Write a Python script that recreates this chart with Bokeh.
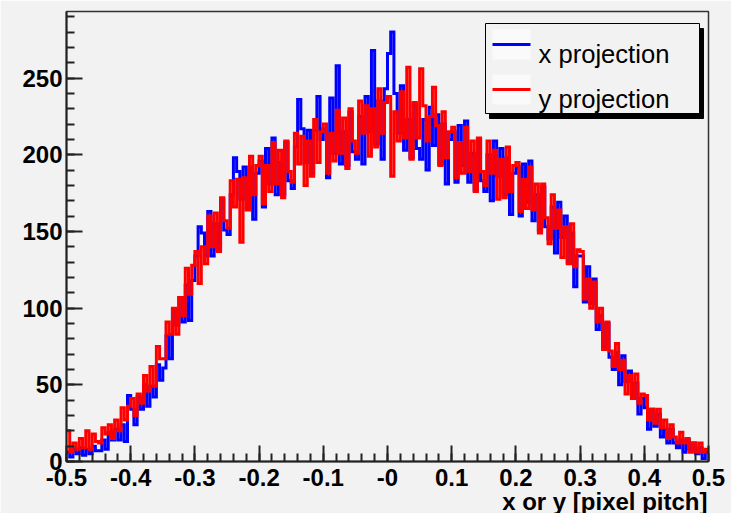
import numpy as np
from bokeh.plotting import figure
from bokeh.models import FixedTicker, Range1d, Title
from bokeh.embed import file_html
from bokeh.resources import INLINE
from bokeh.core.properties import value

# ---------------- data ----------------
x_min, x_max = -0.5, 0.5
n_bins = 200

x_projection = [
    6, 3, 8, 5, 9, 4, 8, 5, 10, 7,
    7, 14, 8, 19, 14, 21, 14, 24, 13, 43,
    34, 24, 42, 34, 50, 36, 49, 42, 63, 53,
    61, 82, 67, 99, 89, 107, 91, 115, 92, 118,
    134, 153, 149, 134, 163, 134, 155, 138, 171, 151,
    148, 174, 198, 189, 171, 192, 165, 192, 158, 188,
    196, 166, 204, 181, 211, 174, 195, 174, 208, 183,
    178, 205, 236, 217, 195, 216, 188, 216, 238, 210,
    217, 185, 237, 201, 258, 194, 215, 193, 228, 202,
    197, 225, 194, 238, 215, 268, 207, 235, 197, 243,
    266, 280, 240, 214, 245, 203, 223, 198, 233, 204,
    197, 223, 190, 231, 206, 226, 194, 220, 181, 210,
    215, 182, 219, 193, 222, 182, 201, 177, 210, 183,
    176, 200, 170, 209, 186, 204, 174, 198, 161, 188,
    192, 160, 194, 169, 196, 157, 174, 151, 179, 153,
    145, 166, 136, 169, 146, 160, 130, 149, 114, 134,
    134, 104, 127, 103, 119, 86, 95, 74, 90, 68,
    60, 71, 50, 69, 52, 59, 41, 51, 31, 41,
    35, 21, 34, 23, 31, 16, 21, 12, 21, 12,
    9, 14, 6, 14, 8, 12, 5, 9, 2, 6,
]

y_projection = [
    20, 6, 12, 8, 15, 9, 20, 8, 18, 13,
    12, 22, 18, 24, 15, 27, 20, 35, 27, 36,
    41, 30, 44, 38, 56, 46, 62, 49, 75, 67,
    67, 91, 83, 100, 83, 107, 95, 126, 109, 128,
    137, 116, 140, 129, 160, 140, 162, 137, 172, 157,
    152, 183, 166, 184, 143, 185, 164, 199, 174, 193,
    199, 168, 193, 176, 208, 181, 203, 172, 209, 189,
    182, 214, 194, 212, 180, 209, 186, 223, 195, 215,
    220, 188, 214, 196, 229, 201, 224, 191, 230, 209,
    201, 235, 214, 232, 199, 230, 205, 243, 214, 234,
    238, 186, 228, 209, 241, 211, 257, 197, 234, 211,
    256, 232, 209, 225, 244, 219, 193, 228, 198, 215,
    218, 185, 208, 188, 218, 189, 209, 176, 211, 189,
    180, 209, 188, 203, 171, 197, 172, 205, 176, 193,
    195, 163, 184, 165, 192, 164, 181, 149, 181, 159,
    142, 174, 152, 164, 133, 153, 129, 155, 127, 138,
    137, 106, 119, 100, 117, 91, 100, 73, 91, 72,
    62, 77, 60, 66, 44, 56, 41, 57, 38, 44,
    43, 27, 34, 25, 34, 22, 27, 15, 24, 16,
    12, 19, 12, 15, 6, 12, 6, 12, 6, 8,
]

x_tick_values = [-0.5, -0.4, -0.3, -0.2, -0.1, 0.0, 0.1, 0.2, 0.3, 0.4, 0.5]
x_tick_labels = ["-0.5", "-0.4", "-0.3", "-0.2", "-0.1", "-0", "0.1", "0.2", "0.3", "0.4", "0.5"]
x_minor_values = [round(-0.5 + 0.02 * i, 2) for i in range(51)]
y_tick_values = [0, 50, 100, 150, 200, 250]
y_minor_values = list(range(0, 300, 10))
y_top = 293.4

x_title = "x or y [pixel pitch]"
series_names = ["x projection", "y projection"]
series_colors = ["#0000ff", "#ff0000"]

# ---------------- figure ----------------
W, H = 731, 513
FL, FR, FT, FB = 66, 708, 11, 461
BG = "#f2f2f2"
FONT = "Liberation Sans"

p = figure(width=W, height=H, output_backend="svg", toolbar_location=None,
           x_range=Range1d(x_min, x_max), y_range=Range1d(0, y_top),
           min_border_left=FL, min_border_right=W - FR,
           min_border_top=FT, min_border_bottom=H - FB,
           background_fill_color=BG, border_fill_color=BG,
           outline_line_color="#333333", outline_line_width=1.5)
p.xgrid.visible = False
p.ygrid.visible = False

edges = np.linspace(x_min, x_max, n_bins + 1)
for vals, col in zip([x_projection, y_projection], series_colors):
    yy = list(vals) + [vals[-1]]
    p.step(x=edges, y=yy, mode="after", line_color=col, line_width=3,
           line_join="miter")

# axes
p.xaxis.ticker = FixedTicker(ticks=x_tick_values, minor_ticks=x_minor_values)
p.xaxis.major_label_overrides = {v: s for v, s in zip(x_tick_values, x_tick_labels)}
p.yaxis.ticker = FixedTicker(ticks=y_tick_values, minor_ticks=y_minor_values)
for ax in (p.xaxis[0], p.yaxis[0]):
    ax.major_tick_in = 16
    ax.major_tick_out = 0
    ax.minor_tick_in = 8
    ax.minor_tick_out = 0
    ax.major_tick_line_color = "#222222"
    ax.minor_tick_line_color = "#222222"
    ax.major_tick_line_width = 2
    ax.minor_tick_line_width = 2
    ax.axis_line_color = "#222222"
    ax.axis_line_width = 2
    ax.major_label_text_font = FONT
    ax.major_label_text_font_style = "bold"
    ax.major_label_text_font_size = "24px"
    ax.major_label_text_color = "#000000"
p.xaxis.major_label_standoff = 7
p.yaxis.major_label_standoff = 4

p.add_layout(Title(text=x_title, align="right", text_font=FONT,
                   text_font_style="bold", text_font_size="24px",
                   text_color="#000000", standoff=-6, offset=1), "below")

# ---------------- legend (ROOT style box with shadow) ----------------
def sx(px):
    return x_min + (px - FL) / (FR - FL) * (x_max - x_min)

def sy(py):
    return y_top * (FB - py) / (FB - FT)

p.quad(left=[sx(489)], right=[sx(703)], top=[sy(28)], bottom=[sy(118)],
       fill_color="#000000", line_color="#000000")
p.quad(left=[sx(485)], right=[sx(699)], top=[sy(23)], bottom=[sy(113)],
       fill_color=BG, line_color="#000000", line_width=1)
row_mid = [44, 89]
row_base = [53, 98]
for i, (name, col) in enumerate(zip(series_names, series_colors)):
    p.quad(left=[sx(492)], right=[sx(530)], top=[sy(row_mid[i] - 15)],
           bottom=[sy(row_mid[i] + 15)], fill_color="#fafafa", line_color=None)
    p.segment(x0=[sx(492)], x1=[sx(530)], y0=[sy(row_mid[i])], y1=[sy(row_mid[i])],
              line_color=col, line_width=3)
    p.text(x=[sx(538)], y=[sy(row_base[i])], text=[name],
           text_font=value(FONT), text_font_size=value("25.6px"),
           text_color="#000000", text_align="left", text_baseline="alphabetic")

open("out.html", "w").write(file_html(p, INLINE))
